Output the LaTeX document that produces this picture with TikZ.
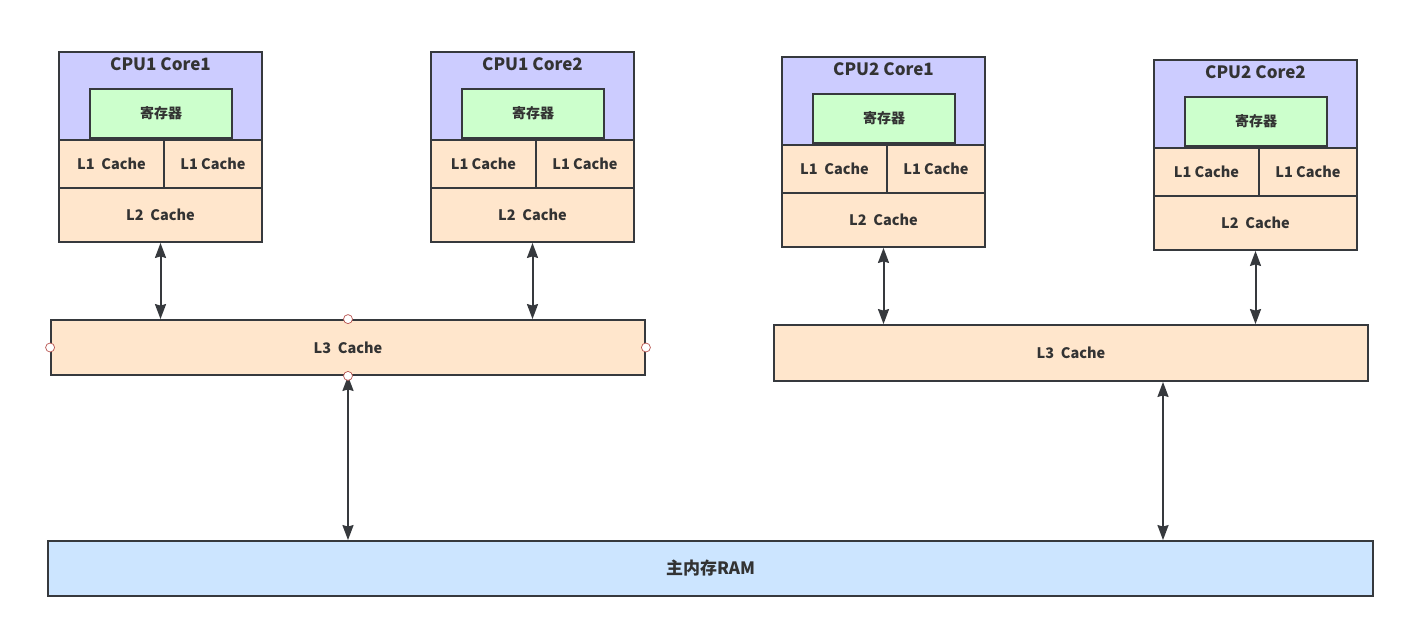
\documentclass[tikz,border=0pt]{standalone}
\usepackage{fontspec}
\usepackage{tikz}
\usetikzlibrary{arrows.meta, positioning, calc}
\usepackage{xcolor}
\setmainfont{Noto Sans CJK SC}
\newfontfamily\cjk{Noto Sans CJK SC}
\definecolor{lineGray}{HTML}{36393D}
\definecolor{textGray}{HTML}{333333}
\definecolor{corePurple}{HTML}{CCCCFF}
\definecolor{regGreen}{HTML}{CCFFCC}
\definecolor{cacheOrange}{HTML}{FFE6CC}
\definecolor{ramBlue}{HTML}{CCE5FF}
\definecolor{handleRed}{HTML}{B85450}

\begin{document}
\begin{tikzpicture}[x=1pt, y=-1pt, >={Stealth[length=15pt, width=11pt, inset=1.5pt]},
    box/.style={rectangle, draw=lineGray, line width=1.8pt, inner sep=0pt, text=textGray, font=\cjk\bfseries},
    corebox/.style={box, fill=corePurple, minimum width=203pt, minimum height=88pt},
    regbox/.style={box, fill=regGreen, minimum width=142pt, minimum height=49pt, font=\cjk\bfseries\fontsize{14}{16}\selectfont},
    cachebox/.style={box, fill=cacheOrange, font=\cjk\bfseries\fontsize{14.5}{16}\selectfont},
    link/.style={<->, lineGray, line width=2pt},
    handle/.style={circle, draw=handleRed, fill=white, line width=0.7pt, minimum size=9pt, inner sep=0pt}]
        \useasboundingbox (0,0) rectangle (1408,627);
        % cores
        \foreach \cx/\cy/\cn/\ctext/\lone in {59/52/c11/CPU1 Core1/L1~ Cache, 431/52/c12/CPU1 Core2/L1 Cache, 782/57/c21/CPU2 Core1/L1~ Cache, 1154/60/c22/CPU2 Core2/L1 Cache} {
            \node (\cn) [corebox] at (\cx+101.5, \cy+44) {};
            \node (\cn-title) [text=textGray, font=\cjk\bfseries\fontsize{17}{19}\selectfont] at (\cx+101.5, \cy+12) {\ctext};
            \node (\cn-reg) [regbox] at (\cx+102, \cy+61.5) {寄存器};
            \node (\cn-l1a) [cachebox, minimum width=105pt, minimum height=48pt] at (\cx+52.5, \cy+112) {\lone};
            \node (\cn-l1b) [cachebox, minimum width=98pt, minimum height=48pt] at (\cx+154, \cy+112) {L1 Cache};
            \node (\cn-l2) [cachebox, minimum width=203pt, minimum height=54pt] at (\cx+101.5, \cy+163) {L2~ Cache};
        }
        \node (l3a) [cachebox, minimum width=594pt, minimum height=55pt] at (348, 347.5) {L3~ Cache};
        \node (l3b) [cachebox, minimum width=594pt, minimum height=56pt] at (1071, 353) {L3~ Cache};
        \node (ram) [box, fill=ramBlue, minimum width=1325pt, minimum height=55pt, font=\cjk\bfseries\fontsize{17}{19}\selectfont] at (710.5, 568.5) {主内存RAM};
        % links
        \draw [link] (c11-l2.south) -- (c11-l2.south |- l3a.north);
        \draw [link] (c12-l2.south) -- (c12-l2.south |- l3a.north);
        \draw [link] (c21-l2.south) -- (c21-l2.south |- l3b.north);
        \draw [link] (c22-l2.south) -- (c22-l2.south |- l3b.north);
        \draw [link] (l3a.south) -- (l3a.south |- ram.north);
        \coordinate (l3b-out) at ([xshift=92pt]l3b.south);
        \draw [link] (l3b-out) -- (l3b-out |- ram.north);
        % selection handles
        \node (h-n) [handle] at (l3a.north) {};
        \node (h-s) [handle] at (l3a.south) {};
        \node (h-w) [handle] at (l3a.west) {};
        \node (h-e) [handle] at (l3a.east) {};
    \end{tikzpicture}
\end{document}
